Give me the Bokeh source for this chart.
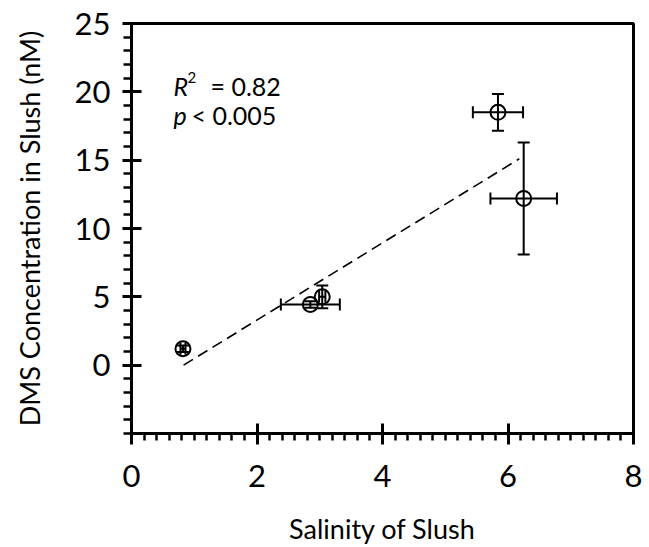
import numpy as np
from bokeh.plotting import figure
from bokeh.models import ColumnDataSource, Whisker, TeeHead, FixedTicker, Range1d
from bokeh.core.properties import value
from bokeh.embed import file_html
from bokeh.resources import INLINE

# ---- data ----
salinity = [0.82, 2.85, 3.04, 5.84, 6.25]
salinity_err = [0.04, 0.47, 0.05, 0.40, 0.53]
dms = [1.2, 4.44, 5.0, 18.5, 12.2]
dms_err = [0.24, 0.24, 0.83, 1.34, 4.1]

fit_x = [0.83, 6.18]
fit_y = [0.0, 15.1]

x_ticks = [0, 2, 4, 6, 8]
y_ticks = [0, 5, 10, 15, 20, 25]

FONT = "Lato"
INK = "black"

src = ColumnDataSource(dict(
    x=salinity, y=dms,
    xl=[a - b for a, b in zip(salinity, salinity_err)],
    xu=[a + b for a, b in zip(salinity, salinity_err)],
    yl=[a - b for a, b in zip(dms, dms_err)],
    yu=[a + b for a, b in zip(dms, dms_err)],
))

p = figure(width=649, height=547, frame_width=502, frame_height=410,
           x_range=Range1d(0, 8), y_range=Range1d(-5, 25),
           output_backend="svg", toolbar_location=None,
           min_border_left=131, min_border_right=16,
           min_border_top=23, min_border_bottom=114)
p.grid.visible = False
p.background_fill_color = "white"
p.border_fill_color = "white"
p.outline_line_color = "black"
p.outline_line_width = 3

p.xaxis.ticker = FixedTicker(ticks=x_ticks, minor_ticks=list(np.round(np.arange(0, 8.01, 0.2), 2)))
p.yaxis.ticker = FixedTicker(ticks=y_ticks, minor_ticks=list(range(-5, 26)))

for ax in (p.xaxis[0], p.yaxis[0]):
    ax.axis_line_width = 3
    ax.major_tick_line_width = 3
    ax.minor_tick_line_width = 2.5
    ax.major_tick_in = 10
    ax.minor_tick_in = 0
    ax.major_label_text_font = FONT
    ax.major_label_text_font_size = "31px"
    ax.major_label_text_color = INK
    ax.axis_label_text_font = FONT
    ax.axis_label_text_font_size = "27px"
    ax.axis_label_text_font_style = "normal"
    ax.axis_label_text_color = INK

p.xaxis.major_tick_out = 11
p.xaxis.minor_tick_out = 7
p.yaxis.major_tick_out = 9
p.yaxis.minor_tick_out = 8
p.xaxis.major_label_standoff = 20
p.yaxis.major_label_standoff = 12
p.xaxis.axis_label = "Salinity of Slush"
p.yaxis.axis_label = "DMS Concentration in Slush (nM)"
p.xaxis.axis_label_standoff = 22
p.yaxis.axis_label_standoff = 26

# regression line
p.line(fit_x, fit_y, line_color="black", line_width=1.6, line_dash="11 6")

# error bars
for dim, base, lo, hi in (("width", "y", "xl", "xu"), ("height", "x", "yl", "yu")):
    w = Whisker(source=src, base=base, lower=lo, upper=hi, dimension=dim,
                line_color="black", line_width=2,
                upper_head=TeeHead(size=12, line_width=2, line_color="black"),
                lower_head=TeeHead(size=12, line_width=2, line_color="black"))
    p.add_layout(w)

p.scatter("x", "y", source=src, size=15, fill_color=None, line_color="black", line_width=2)

# annotation
ann_x = 0.67
p.text([ann_x], [20.45], text=["R"], text_font=value(FONT), text_font_size="25px",
       text_font_style="italic", text_baseline="alphabetic", text_color=INK)
p.text([ann_x], [20.45], text=["2"], text_font=value(FONT), text_font_size="15px",
       x_offset=14, y_offset=-8, text_baseline="alphabetic", text_color=INK)
p.text([ann_x], [20.45], text=["= 0.82"], text_font=value(FONT), text_font_size="25px",
       x_offset=37, text_baseline="alphabetic", text_color=INK)
p.text([ann_x], [18.3], text=["p"], text_font=value(FONT), text_font_size="25px",
       text_font_style="italic", text_baseline="alphabetic", text_color=INK)
p.text([ann_x], [18.3], text=["< 0.005"], text_font=value(FONT), text_font_size="25px",
       x_offset=18, text_baseline="alphabetic", text_color=INK)

open("out.html", "w").write(file_html(p, INLINE))
